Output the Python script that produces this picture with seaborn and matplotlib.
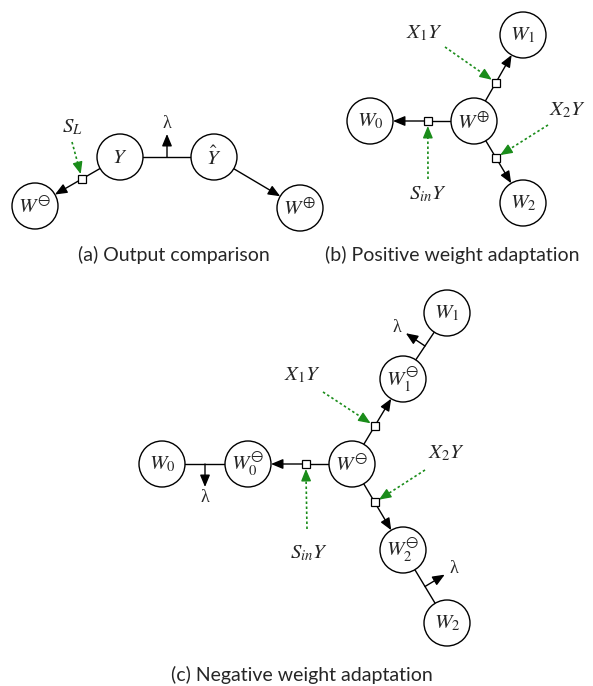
import numpy as np
import seaborn as sns
import matplotlib.pyplot as plt
from matplotlib.patches import Circle, Rectangle

sns.set_theme(style='white')
plt.rcParams['mathtext.fontset'] = 'stix'
plt.rcParams['font.family'] = ['Lato', 'DejaVu Sans']

# node layout (pixel coords of the original figure)
node_names = ['Wm_a', 'Y', 'Yhat', 'Wp_a',
              'W0_b', 'Wp_b', 'W1_b', 'W2_b',
              'W0_c', 'W0m_c', 'Wm_c', 'W1m_c', 'W1_c', 'W2m_c', 'W2_c']
node_labels = [r'$W^{\ominus}$', r'$Y$', r'$\hat{Y}$', r'$W^{\oplus}$',
               r'$W_0$', r'$W^{\oplus}$', r'$W_1$', r'$W_2$',
               r'$W_0$', r'$W_0^{\ominus}$', r'$W^{\ominus}$', r'$W_1^{\ominus}$', r'$W_1$',
               r'$W_2^{\ominus}$', r'$W_2$']
node_x = [35, 120, 214, 300,
          370, 474, 523, 523,
          162, 248, 352, 403, 447, 403, 447]
node_y = [206, 157, 157, 208,
          121, 121, 35, 203,
          464, 464, 464, 379, 313, 550, 623]

# edges: (source, target, kind)
edges = [('Y', 'Wm_a', 'square'), ('Y', 'Yhat', 'lambda'), ('Yhat', 'Wp_a', 'arrow'),
         ('Wp_b', 'W0_b', 'square'), ('Wp_b', 'W1_b', 'square'), ('Wp_b', 'W2_b', 'square'),
         ('W0_c', 'W0m_c', 'lambda_down'), ('Wm_c', 'W0m_c', 'square'),
         ('Wm_c', 'W1m_c', 'square'), ('Wm_c', 'W2m_c', 'square'),
         ('W1m_c', 'W1_c', 'lambda'), ('W2m_c', 'W2_c', 'lambda')]

# green signal annotations: label, text position, arrow start, target edge
sig_labels = [r'$S_L$', r'$X_1Y$', r'$X_2Y$', r'$S_{in}Y$', r'$X_1Y$', r'$X_2Y$', r'$S_{in}Y$']
sig_text = [(72, 127), (424, 33), (567, 110), (428, 194), (302, 375), (446, 453), (309, 553)]
sig_start = [(72, 142), (445, 47), (548, 125), (428, 179), (323, 392), (425, 470), (307, 529)]
sig_edge = [('Y', 'Wm_a'), ('Wp_b', 'W1_b'), ('Wp_b', 'W2_b'), ('Wp_b', 'W0_b'),
            ('Wm_c', 'W1m_c'), ('Wm_c', 'W2m_c'), ('Wm_c', 'W0m_c')]

captions = ['(a) Output comparison', '(b) Positive weight adaptation',
            '(c) Negative weight adaptation']
caption_pos = [(174, 255), (452, 255), (302, 675)]

R = 23
SQ = 8
head = '-|>,head_length=0.6,head_width=0.25'

fig = plt.figure(figsize=(5.93, 6.86), dpi=100)
ax = fig.add_axes([0, 0, 1, 1])
ax.set_xlim(0, 593)
ax.set_ylim(686, 0)
ax.set_aspect('equal')
ax.axis('off')

pos = {n: np.array([x, y], float) for n, x, y in zip(node_names, node_x, node_y)}

for n, lab in zip(node_names, node_labels):
    ax.add_patch(Circle(pos[n], R, fc='white', ec='black', lw=1, zorder=3))
    ax.text(*pos[n], lab, ha='center', va='center', fontsize=15, zorder=4)


def arrow(a, b, color='black', z=2):
    ax.annotate('', xy=b, xytext=a, zorder=z,
                arrowprops=dict(arrowstyle=head, color=color, lw=1, mutation_scale=12,
                                shrinkA=0, shrinkB=0))


square_at = {}
for s, t, kind in edges:
    p, q = pos[s], pos[t]
    u = (q - p) / np.linalg.norm(q - p)
    a = p + u * R
    b = q - u * R
    if kind == 'square':
        c = a + 0.4 * (b - a)
        square_at[(s, t)] = c
        ax.plot([a[0], c[0]], [a[1], c[1]], color='black', lw=1, zorder=1)
        arrow(c, b)
        ax.add_patch(Rectangle(c - SQ / 2, SQ, SQ, fc='white', ec='black', lw=0.9, zorder=5))
    elif kind == 'arrow':
        arrow(a, b)
    else:
        ax.plot([a[0], b[0]], [a[1], b[1]], color='black', lw=1, zorder=1)
        m = (a + b) / 2
        perp = np.array([u[1], -u[0]])
        if kind == 'lambda_down':
            perp = -perp
        tip = m + perp * 23
        arrow(m, tip)
        lp = tip + perp * 11
        ax.text(lp[0], lp[1], 'λ', ha='center', va='center', fontsize=13,
                family='Liberation Serif')

green = '#1a8c1a'
for lab, tp, sp, e in zip(sig_labels, sig_text, sig_start, sig_edge):
    c = square_at[e]
    sp = np.array(sp, float)
    u = (c - sp) / np.linalg.norm(c - sp)
    tip = c - u * (SQ / 2 + 1)
    mid = tip - u * 9
    ax.plot([sp[0], mid[0]], [sp[1], mid[1]], color=green, lw=1.2, ls=(0, (1.5, 1.5)), zorder=1)
    arrow(mid, tip, color=green)
    ax.text(tp[0], tp[1], lab, ha='center', va='center', fontsize=15)

for cap, (x, y) in zip(captions, caption_pos):
    ax.text(x, y, cap, ha='center', va='center', fontsize=14)

fig.savefig('out.png', dpi=100)
